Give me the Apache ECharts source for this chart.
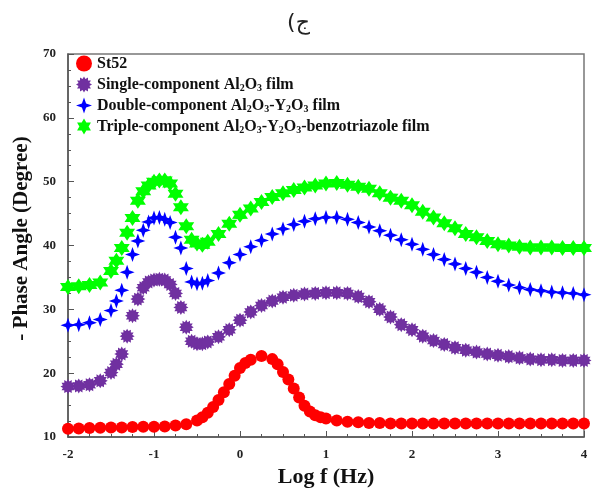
<!DOCTYPE html>
<html><head><meta charset="utf-8">
<script src="https://cdn.jsdelivr.net/npm/echarts@6/dist/echarts.min.js"></script>
<style>html,body{margin:0;padding:0;background:#fff}#c{width:597px;height:495px}</style>
</head><body><div id="c"></div>
<script>
// St52
var st52X = [-2,-1.875,-1.75,-1.625,-1.5,-1.375,-1.25,-1.125,-1,-0.875,-0.75,-0.625,-0.5,-0.4375,-0.375,-0.3125,-0.25,-0.1875,-0.125,-0.0625,0,0.0625,0.125,0.25,0.375,0.4375,0.5,0.5625,0.625,0.6875,0.75,0.8125,0.875,0.9375,1,1.125,1.25,1.375,1.5,1.625,1.75,1.875,2,2.125,2.25,2.375,2.5,2.625,2.75,2.875,3,3.125,3.25,3.375,3.5,3.625,3.75,3.875,4];
var st52Y = [11.3,11.35,11.4,11.45,11.5,11.5,11.55,11.6,11.6,11.65,11.8,12.0,12.6,13.1,13.8,14.7,15.8,17.0,18.3,19.6,20.8,21.6,22.1,22.7,22.2,21.4,20.2,19.0,17.6,16.2,14.9,14.0,13.4,13.1,12.9,12.6,12.4,12.3,12.2,12.2,12.1,12.1,12.1,12.1,12.1,12.1,12.1,12.1,12.1,12.1,12.1,12.1,12.1,12.1,12.1,12.1,12.1,12.1,12.1];
// shared x grid of the three coated samples
var filmX = [-2,-1.875,-1.75,-1.625,-1.5,-1.4375,-1.375,-1.3125,-1.25,-1.1875,-1.125,-1.0625,-1,-0.9375,-0.875,-0.8125,-0.75,-0.6875,-0.625,-0.5625,-0.5,-0.4375,-0.375,-0.25,-0.125,0,0.125,0.25,0.375,0.5,0.625,0.75,0.875,1,1.125,1.25,1.375,1.5,1.625,1.75,1.875,2,2.125,2.25,2.375,2.5,2.625,2.75,2.875,3,3.125,3.25,3.375,3.5,3.625,3.75,3.875,4];
var singleY = [17.9,18.0,18.2,18.8,20.1,21.4,23.0,25.8,29.0,31.6,33.4,34.3,34.6,34.7,34.6,33.9,32.5,30.3,27.2,25.0,24.6,24.6,24.9,25.7,26.8,28.3,29.6,30.6,31.3,31.9,32.2,32.4,32.5,32.6,32.6,32.5,32.0,31.2,30.0,28.8,27.6,26.8,25.8,25.1,24.5,24.0,23.6,23.3,23.0,22.8,22.6,22.4,22.2,22.1,22.1,22.0,22.0,22.0];
var doubleY = [27.5,27.6,27.9,28.4,29.8,31.3,33.0,35.8,38.6,40.7,42.4,43.7,44.3,44.4,44.1,43.6,41.3,39.6,36.4,34.3,34.0,34.1,34.5,35.7,37.3,38.6,39.8,40.8,41.8,42.6,43.3,43.8,44.2,44.4,44.4,44.1,43.6,42.9,42.3,41.6,40.9,40.2,39.4,38.6,37.8,37.1,36.4,35.8,35.0,34.4,33.8,33.4,33.1,32.9,32.7,32.6,32.5,32.3];
var tripleY = [33.5,33.6,33.8,34.2,36.0,37.6,39.6,42.0,44.3,47.0,48.5,49.4,50.0,50.2,50.2,49.7,48.1,46.0,43.0,40.9,40.3,40.1,40.6,41.8,43.4,44.8,45.8,46.8,47.6,48.2,48.7,49.1,49.4,49.7,49.8,49.5,49.2,48.9,48.2,47.5,47.0,46.3,45.3,44.4,43.5,42.7,41.8,41.3,40.7,40.2,40.0,39.8,39.7,39.7,39.7,39.6,39.6,39.6];
var xTicks = [-2,-1,0,1,2,3,4];
var yTicks = [10,20,30,40,50,60,70];
var seriesNames = ['St52','Single-component Al2O3 film','Double-component Al2O3-Y2O3 film','Triple-component Al2O3-Y2O3-benzotriazole film'];
var legendLabels = [
  'St52',
  'Single-component Al{s|2}O{s|3} film',
  'Double-component Al{s|2}O{s|3}-Y{s|2}O{s|3} film',
  'Triple-component Al{s|2}O{s|3}-Y{s|2}O{s|3}-benzotriazole film'
];

function starPath(n, rOut, rIn) {
  var p = '';
  for (var i = 0; i < 2 * n; i++) {
    var r = i % 2 === 0 ? rOut : rIn;
    var a = Math.PI * i / n - Math.PI / 2;
    p += (i === 0 ? 'M' : 'L') + (r * Math.cos(a)).toFixed(2) + ',' + (r * Math.sin(a)).toFixed(2) + ' ';
  }
  return 'path://' + p + 'Z';
}
var burst = starPath(12, 10, 7);
var four = 'path://M0,-10 L2.6,-2.6 L10,0 L2.6,2.6 L0,10 L-2.6,2.6 L-10,0 L-2.6,-2.6 Z';
var hexa = starPath(6, 10, 5.8);

function pts(xs, ys) { return xs.map(function (x, i) { return [x, ys[i]]; }); }

var serif = '"Liberation Serif","Times New Roman",serif';
var chart = echarts.init(document.getElementById('c'), null, {renderer: 'canvas'});
var mk = function (name, data, sym, size, color) {
  return {name: name, type: 'scatter', data: data, symbol: sym, symbolSize: size,
    itemStyle: {color: color, opacity: 1}, clip: false, animation: false};
};
chart.setOption({
  animation: false,
  title: {text: 'ج)\u200F', left: 'center', top: 7,
    textStyle: {fontFamily: '"DejaVu Sans",sans-serif', fontSize: 22, fontWeight: 'normal', color: '#222'}},
  grid: {left: 68, right: 13, top: 54, bottom: 58, show: true, borderColor: '#777', borderWidth: 1.5},
  legend: {orient: 'vertical', left: 71, top: 50, itemGap: 4, itemWidth: 16, itemHeight: 16,
    data: [{name: seriesNames[0], icon: 'circle'}, {name: seriesNames[1], icon: burst},
           {name: seriesNames[2], icon: four}, {name: seriesNames[3], icon: hexa}],
    formatter: function (n) { return legendLabels[seriesNames.indexOf(n)]; },
    textStyle: {fontFamily: serif, fontWeight: 'bold', fontSize: 16, color: '#111', lineHeight: 17,
      rich: {s: {fontFamily: serif, fontWeight: 'bold', fontSize: 10, color: '#111', verticalAlign: 'bottom', lineHeight: 11}}}},
  xAxis: {type: 'value', min: xTicks[0], max: xTicks[xTicks.length - 1], interval: 1,
    name: 'Log f (Hz)', nameLocation: 'middle', nameGap: 29,
    nameTextStyle: {fontFamily: serif, fontWeight: 'bold', fontSize: 22, color: '#111'},
    axisLine: {onZero: false, lineStyle: {color: '#555', width: 1.5}},
    axisTick: {inside: true, length: 6, lineStyle: {color: '#555'}},
    minorTick: {show: true, splitNumber: 4, length: 3, lineStyle: {color: '#555'}},
    splitLine: {show: false},
    axisLabel: {fontFamily: serif, fontWeight: 'bold', fontSize: 13, color: '#222', margin: 11}},
  yAxis: {type: 'value', min: yTicks[0], max: yTicks[yTicks.length - 1], interval: 10,
    name: '- Phase Angle (Degree)', nameLocation: 'middle', nameGap: 35,
    nameTextStyle: {fontFamily: serif, fontWeight: 'bold', fontSize: 21, color: '#111', padding: [0, 0, 0, 14]},
    axisLine: {show: true, onZero: false, lineStyle: {color: '#555', width: 1.5}},
    axisTick: {show: true, inside: true, length: 6, lineStyle: {color: '#555'}},
    minorTick: {show: true, splitNumber: 4, length: 3, lineStyle: {color: '#555'}},
    splitLine: {show: false},
    axisLabel: {fontFamily: serif, fontWeight: 'bold', fontSize: 13, color: '#222', margin: 12}},
  series: [
    mk(seriesNames[0], pts(st52X, st52Y), 'circle', 12, '#ff0000'),
    mk(seriesNames[1], pts(filmX, singleY), burst, 15, '#7030a0'),
    mk(seriesNames[2], pts(filmX, doubleY), four, 15, '#0000ff'),
    mk(seriesNames[3], pts(filmX, tripleY), hexa, 16, '#00ff00')
  ]
});
</script></body></html>
